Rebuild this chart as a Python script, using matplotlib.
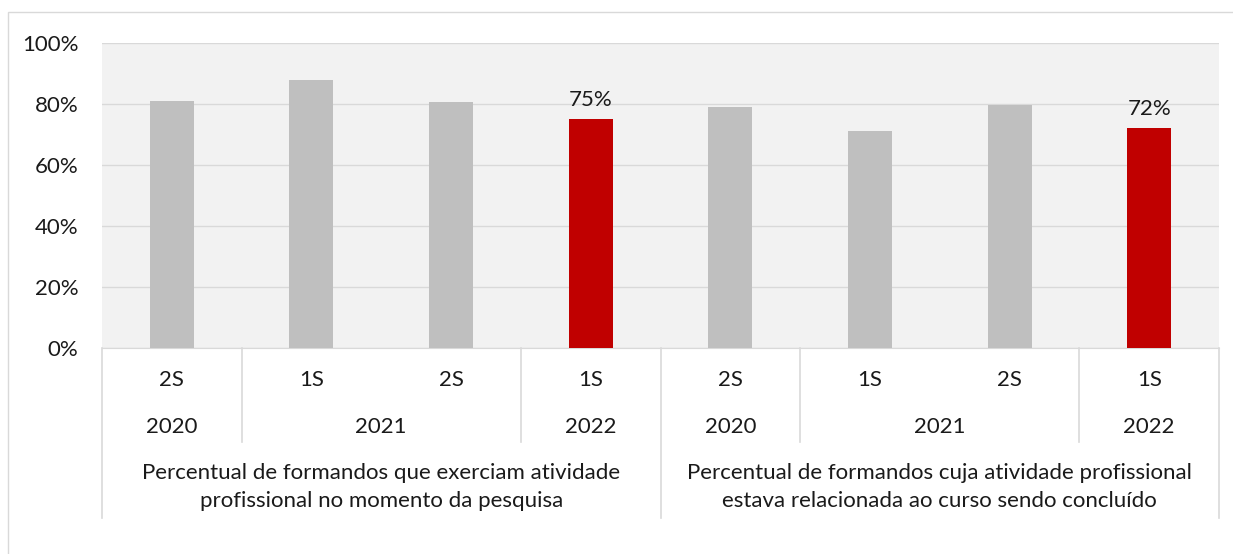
import matplotlib.pyplot as plt
from matplotlib.patches import Rectangle
from matplotlib.lines import Line2D
import matplotlib.transforms as mtransforms

plt.rcParams['font.family'] = ['Lato', 'DejaVu Sans']

# data
semestres = ['2S', '1S', '2S', '1S', '2S', '1S', '2S', '1S']
anos = ['2020', '2021', '2022', '2020', '2021', '2022']
anos_span = [(0, 1), (1, 3), (3, 4), (4, 5), (5, 7), (7, 8)]
grupos = ['Percentual de formandos que exerciam atividade\nprofissional no momento da pesquisa',
          'Percentual de formandos cuja atividade profissional\nestava relacionada ao curso sendo concluído']
valores = [0.81, 0.88, 0.805, 0.75, 0.79, 0.71, 0.797, 0.72]
destaque = [False, False, False, True, False, False, False, True]

cinza = '#bfbfbf'
vermelho = '#c00000'
txt = '#1a1a1a'
linha = '#d9d9d9'
fs = 16

fig = plt.figure(figsize=(12.33, 5.54), dpi=100)
# chart frame
fig.patches.append(Rectangle((8/1233, -0.1), 1.5, 1 - 12/554 + 0.1, transform=fig.transFigure,
                             fill=False, edgecolor='#d9d9d9', lw=1))

ax = fig.add_axes([102/1233, 1 - 348/554, 1117/1233, 305/554])
ax.set_facecolor('#f2f2f2')
x = list(range(len(valores)))
cores = [vermelho if d else cinza for d in destaque]
ax.bar(x, valores, width=0.315, color=cores, zorder=3)
for i, v in enumerate(valores):
    if destaque[i]:
        ax.text(i, v + 0.03, f'{v:.0%}', ha='center', va='bottom', fontsize=fs, color=txt)

ax.set_xlim(-0.5, len(valores) - 0.5)
ax.set_ylim(0, 1)
ax.set_yticks([0, 0.2, 0.4, 0.6, 0.8, 1.0])
ax.set_yticklabels(['0%', '20%', '40%', '60%', '80%', '100%'])
ax.tick_params(axis='y', length=0, pad=17, labelsize=fs, labelcolor=txt)
ax.set_xticks([])
ax.grid(axis='y', color=linha, lw=1, zorder=0)
for s in ['top', 'right', 'left']:
    ax.spines[s].set_visible(False)
ax.spines['bottom'].set_color(linha)

trans = mtransforms.blended_transform_factory(ax.transData, ax.transAxes)
for i, s in enumerate(semestres):
    ax.text(i, -0.105, s, transform=trans, ha='center', va='center', fontsize=fs, color=txt)
for a, (a0, a1) in zip(anos, anos_span):
    ax.text((a0 + a1 - 1) / 2, -0.259, a, transform=trans, ha='center', va='center',
            fontsize=fs, color=txt)
for g, nome in enumerate(grupos):
    ax.text(g * 4 + 1.5, -0.456, nome, transform=trans, ha='center', va='center',
            fontsize=fs, color=txt, linespacing=1.55)

# separators
for b in [1, 3, 5, 7]:
    ax.add_line(Line2D([b - 0.5, b - 0.5], [0, -0.308], transform=trans, color=linha,
                       lw=1.2, clip_on=False))
for b in [0, 4, 8]:
    ax.add_line(Line2D([b - 0.5, b - 0.5], [0, -0.557], transform=trans, color=linha,
                       lw=1.2, clip_on=False))

fig.savefig('out.png', dpi=100)
